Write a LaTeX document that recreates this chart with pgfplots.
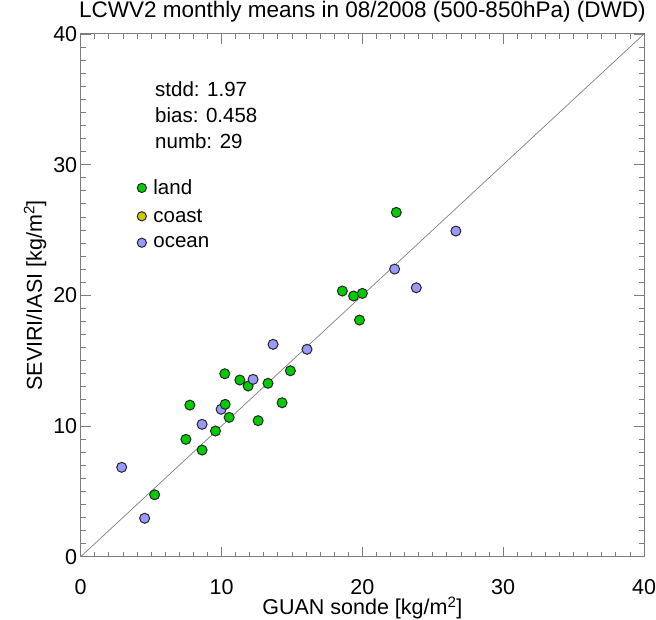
\documentclass[border=0pt]{standalone}
\usepackage{fontspec}
\setmainfont{Liberation Sans}
\usepackage{pgfplots}
\pgfplotsset{compat=1.18}

\definecolor{land}{RGB}{0,204,0}
\definecolor{coast}{RGB}{204,204,0}
\definecolor{ocean}{RGB}{153,153,255}
\definecolor{framegray}{RGB}{125,125,125}

\pgfplotsset{
    pt/.style={only marks, mark=*, mark size=5pt,
        mark options={fill=#1, draw=black!85, line width=1pt}},
}

\begin{document}
\begin{tikzpicture}[x=1pt,y=1pt]
\path[use as bounding box] (0,0) rectangle (656,620);
\begin{axis}[
    at={(80.7pt,63.3pt)}, anchor=south west,
    scale only axis, width=563.3pt, height=522.7pt,
    xmin=0, xmax=40, ymin=0, ymax=40,
    xtick={0,10,...,40}, ytick={0,10,...,40},
    minor tick num=9,
    tick align=inside,
    major tick length=10pt, minor tick length=5pt,
    axis line style={framegray, line width=1pt},
    every tick/.style={framegray, line width=0.8pt},
    font=\fontsize{21.5}{25}\selectfont,
    /pgf/number format/assume math mode=true,
    xticklabel style={anchor=base, yshift=-38pt},
    yticklabel style={anchor=east},
    title={LCWV2 monthly means in 08/2008 (500-850hPa) (DWD)},
    title style={font=\fontsize{22.5}{26}\selectfont, at={(0.5,1)}, anchor=base, yshift=10pt},
    xlabel={GUAN sonde [kg/m\textsuperscript{2}]},
    ylabel={SEVIRI/IASI [kg/m\textsuperscript{2}]},
    xlabel style={at={(0.5,0)}, anchor=base, yshift=-58pt},
    legend style={draw=none, fill=none, at={(axis cs:4.0,29.35)}, anchor=north west,
        font=\fontsize{20.5}{24}\selectfont, inner sep=0pt,
        nodes={inner sep=0pt, inner xsep=7pt, inner ysep=6.4pt}},
    legend cell align=left,
    legend image code/.code={\draw[#1, mark size=4.6pt] plot coordinates {(0pt,0pt)};},
]
\addplot[gray, line width=0.7pt, forget plot] coordinates {(0,0) (40,40)};

\addplot[pt=ocean, forget plot] coordinates {
(2.91,6.84) (4.54,2.94) (8.62,10.13) (9.97,11.28) (13.66,16.25)
(16.07,15.87) (22.29,22.01) (23.83,20.58) (26.64,24.92)
};
\addplot[pt=land] coordinates {
(5.25,4.74) (7.47,8.98) (7.75,11.6) (8.62,8.16) (9.57,9.62)
(10.26,11.66) (10.54,10.66) (12.6,10.41) (14.3,11.78) (13.3,13.27)
(18.58,20.33) (19.38,19.95) (20.0,20.15) (19.8,18.11) (22.41,26.35)
(14.89,14.23) (10.23,14.0) (11.3,13.52) (11.89,13.06)
};
\addlegendentry{land}
\addlegendimage{pt=coast}
\addlegendentry{coast}
\addplot[pt=ocean] coordinates {(12.24,13.57)};
\addlegendentry{ocean}

\node[anchor=base west, font=\fontsize{20.5}{24}\selectfont]
  at (axis cs:5.04,35.2) {stdd: 1.97};
\node[anchor=base west, font=\fontsize{20.5}{24}\selectfont]
  at (axis cs:5.04,33.2) {bias: 0.458};
\node[anchor=base west, font=\fontsize{20.5}{24}\selectfont]
  at (axis cs:5.04,31.25) {numb: 29};
\end{axis}
\end{tikzpicture}
\end{document}
